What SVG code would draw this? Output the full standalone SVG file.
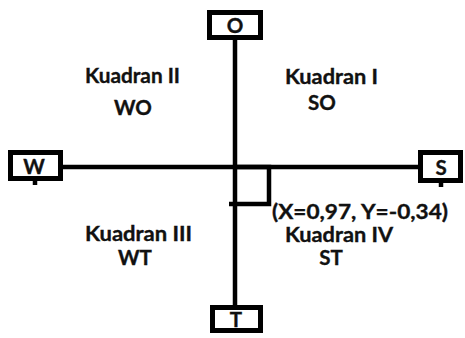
<svg xmlns="http://www.w3.org/2000/svg" width="465" height="338" viewBox="0 0 465 338">
<style>
.box{fill:#fff;stroke:#000;stroke-width:5}
.ln{stroke:#000;stroke-width:4.5;fill:none}
.t{font-family:Lato,"Liberation Sans",sans-serif;font-weight:bold;font-size:20.5px;fill:#111;stroke:#111;stroke-width:0.35}
.c{text-anchor:middle}
</style>
<rect width="465" height="338" fill="#fff"/>
<g id="connectors">
<line class="ln" x1="235" y1="39" x2="235" y2="306"/>
<line class="ln" x1="62" y1="167" x2="419" y2="167"/>
<polyline class="ln" points="235,167 269,167 269,204 229,204"/>
</g>
<g id="node-O"><rect class="box" x="209.5" y="12.5" width="51" height="25"/><text class="t c" x="235" y="33">O</text></g>
<g id="node-W"><rect class="box" x="10.5" y="152.5" width="50" height="26"/><text class="t c" x="34" y="174">W</text><line class="ln" x1="35" y1="181" x2="35" y2="185" stroke-width="2"/></g>
<g id="node-S"><rect class="box" x="420.5" y="152.5" width="40" height="28"/><text class="t c" x="441" y="175">S</text><line class="ln" x1="441" y1="183" x2="441" y2="187" stroke-width="2"/></g>
<g id="node-T"><rect class="box" x="212.5" y="307.5" width="48" height="23"/><text class="t c" x="236" y="327">T</text></g>
<g id="labels">
<text class="t" x="85" y="83" textLength="95" lengthAdjust="spacingAndGlyphs">Kuadran II</text>
<text class="t c" x="133" y="115">WO</text>
<text class="t" x="285" y="84" textLength="93" lengthAdjust="spacingAndGlyphs">Kuadran I</text>
<text class="t c" x="322" y="110">SO</text>
<text class="t" x="85" y="241" textLength="107" lengthAdjust="spacingAndGlyphs">Kuadran III</text>
<text class="t c" x="135" y="265">WT</text>
<text class="t" x="285" y="242" textLength="108" lengthAdjust="spacingAndGlyphs">Kuadran IV</text>
<text class="t c" x="331" y="265">ST</text>
<text class="t" x="272" y="219" textLength="176" lengthAdjust="spacingAndGlyphs">(X=0,97, Y=-0,34)</text>
</g>
</svg>
